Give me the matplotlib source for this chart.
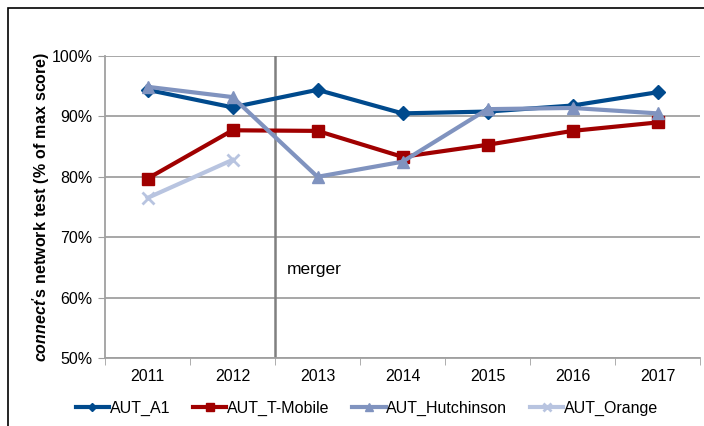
import matplotlib
matplotlib.use("Agg")
import matplotlib.pyplot as plt
from matplotlib.patches import Rectangle

plt.rcParams['font.family'] = ['Liberation Sans', 'DejaVu Sans']
plt.rcParams['mathtext.fontset'] = 'custom'
plt.rcParams['mathtext.bfit'] = 'Liberation Sans:bold:italic'
plt.rcParams['mathtext.bf'] = 'Liberation Sans:bold'
plt.rcParams['mathtext.rm'] = 'Liberation Sans'

years = ['2011', '2012', '2013', '2014', '2015', '2016', '2017']
a1 = [94.4, 91.5, 94.4, 90.5, 90.8, 91.8, 94.0]
tmobile = [79.7, 87.7, 87.6, 83.3, 85.3, 87.6, 89.0]
hutchinson = [94.9, 93.2, 80.0, 82.5, 91.2, 91.4, 90.5]
orange = [76.5, 82.8]
yticks = [50, 60, 70, 80, 90, 100]

fig = plt.figure(figsize=(7.04, 4.26), dpi=100)
ax = fig.add_axes([105/704, 1 - 358/426, 595/704, 302/426])

x = list(range(len(years)))
ax.plot(x, a1, color='#004A8D', lw=3, marker='D', ms=7, label='AUT_A1', zorder=5)
ax.plot(x, tmobile, color='#A00000', lw=3, marker='s', ms=9, label='AUT_T-Mobile', zorder=4)
ax.plot(x, hutchinson, color='#8093BF', lw=3, marker='^', ms=9, label='AUT_Hutchinson', zorder=6)
ax.plot(x[:len(orange)], orange, color='#B8C4E0', lw=3, marker='x', ms=8, mew=2,
        label='AUT_Orange', zorder=3)

ax.axvline(1.5, color='#808080', lw=1.8, zorder=2)
ax.text(1.64, 64.6, 'merger', fontsize=12.5, va='center', ha='left')

ax.set_xlim(-0.5, 6.5)
ax.set_ylim(50, 100)
ax.set_yticks(yticks)
ax.set_yticklabels([f'{v}%' for v in yticks], fontsize=11.5)
ax.set_xticks(x)
ax.set_xticklabels(years, fontsize=11.5)
ax.set_xticks([i - 0.5 for i in range(len(years) + 1)], minor=True)
ax.tick_params(axis='x', which='major', length=0, pad=8)
ax.tick_params(axis='x', which='minor', length=5, color='#A0A0A0')
ax.tick_params(axis='y', length=5, color='#A0A0A0', pad=4)
ax.grid(axis='y', color='#A0A0A0', lw=1.3, zorder=1)
for s in ['top', 'right']:
    ax.spines[s].set_visible(False)
for s in ['left', 'bottom']:
    ax.spines[s].set_color('#A0A0A0')
    ax.spines[s].set_linewidth(1.3)

ax.set_ylabel(r"$\mathbfit{connect}$" + r"$\mathbf{'s\ network\ test\ (\%\ of\ max\ score)}$",
              fontsize=11.5, labelpad=-0.5)

leg = fig.legend(loc='center', bbox_to_anchor=(367/704, 1 - 408/426), ncol=4,
                 frameon=False, fontsize=11.5, handlelength=2.1, columnspacing=1.4,
                 handletextpad=0.05, markerscale=0.65)

fig.patches.append(Rectangle((8/704, -0.1), 1.2, 1.1 - 8/426, transform=fig.transFigure,
                             fill=False, edgecolor='black', lw=1.2, figure=fig))

fig.savefig('out.png', dpi=100)
